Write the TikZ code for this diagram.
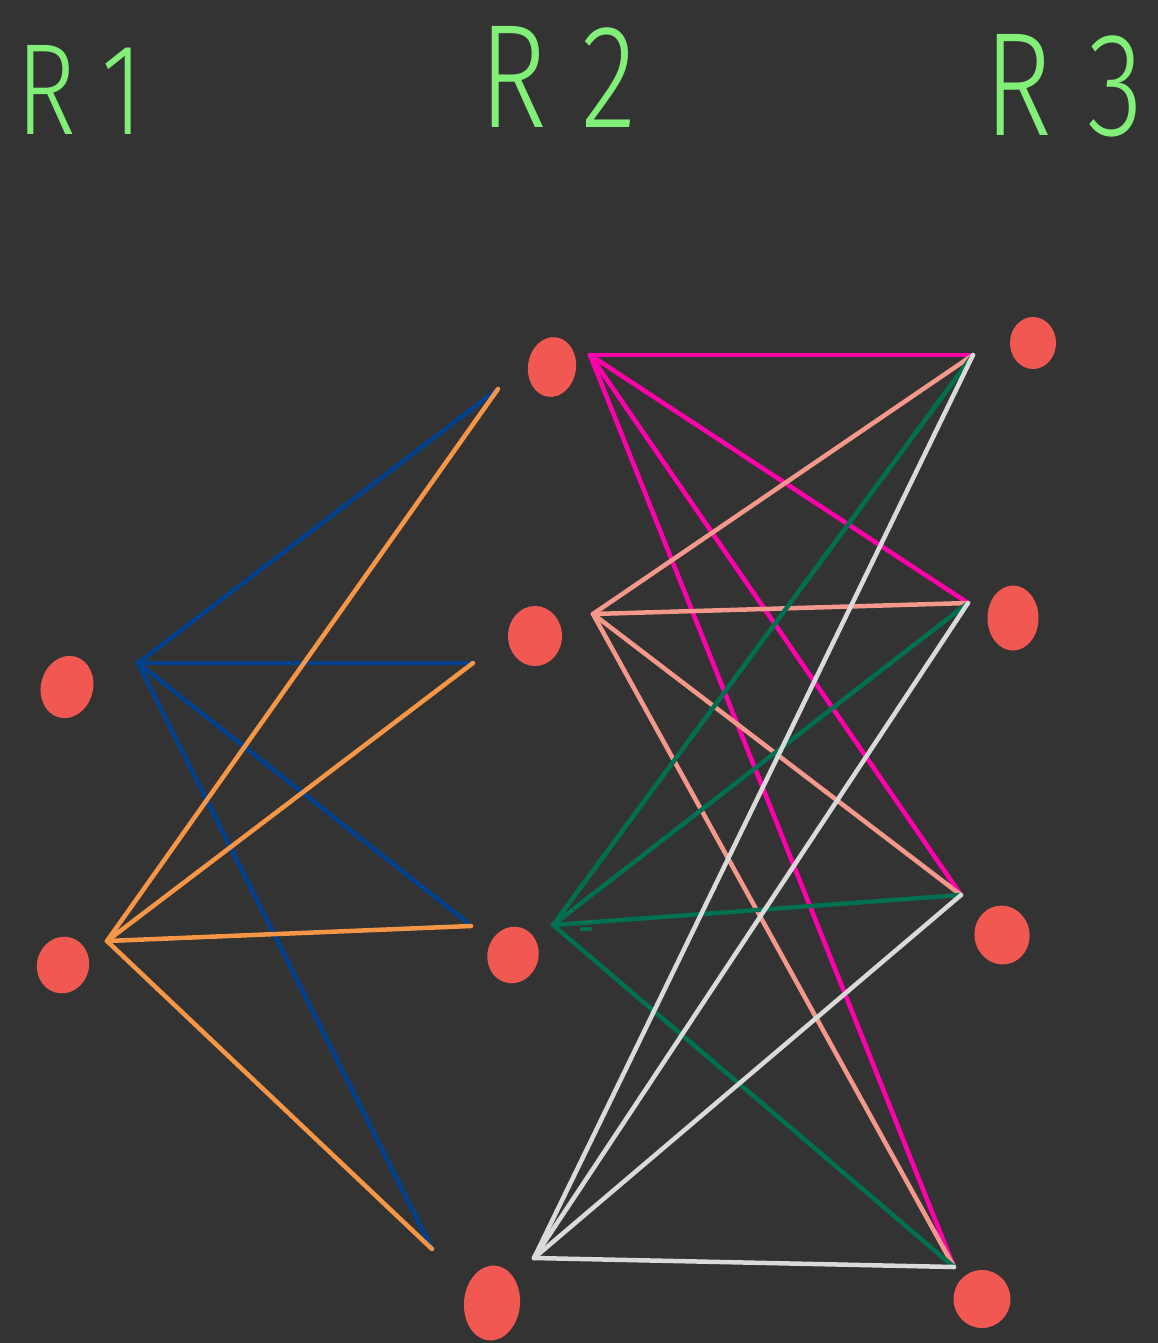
\documentclass[tikz,border=0pt]{standalone}
\usepackage{fontspec}
\usetikzlibrary{shapes.geometric}
\newfontfamily\labfont{Fira Sans Light}
\definecolor{bg}{RGB}{51,51,51}
\definecolor{dotred}{RGB}{242,88,82}
\definecolor{lblue}{RGB}{0,64,140}
\definecolor{lorange}{RGB}{245,150,70}
\definecolor{lmag}{RGB}{255,0,170}
\definecolor{lsalmon}{RGB}{245,152,140}
\definecolor{lgreen}{RGB}{0,112,80}
\definecolor{lwhite}{RGB}{218,218,218}
\definecolor{tgreen}{RGB}{130,240,120}
\tikzset{
  dotnode/.style={ellipse, fill=dotred, draw=none, inner sep=0pt},
  edge/.style={line width=0.09cm, line cap=round},
  lab/.style={text=tgreen, font=\labfont\fontsize{84}{84}\selectfont, inner sep=0pt, xscale=0.78}
}
\begin{document}
\begin{tikzpicture}[x=0.02cm, y=-0.02cm]
\fill[bg] (0,0) rectangle (1158,1343);
\useasboundingbox (0,0) rectangle (1158,1343);
% labels
\node[lab, font=\labfont\fontsize{74}{74}\selectfont] (l1) at (80,90) {R\hspace{0.25em}1};
\node[lab] (l2) at (558,77) {R\hspace{0.3em}2};
\node[lab] (l3) at (1064,86) {R\hspace{0.3em}3};
% dots
\node[dotnode, minimum width=1.04cm, minimum height=1.26cm, rotate=-15] (a1) at (67,687) {};
\node[dotnode, minimum width=1.04cm, minimum height=1.14cm, rotate=-15] (a2) at (63,965) {};
\node[dotnode, minimum width=0.96cm, minimum height=1.2cm, rotate=-8] (b1) at (552,367) {};
\node[dotnode, minimum width=1.08cm, minimum height=1.2cm] (b2) at (535,636) {};
\node[dotnode, minimum width=1.02cm, minimum height=1.14cm, rotate=-15] (b3) at (513,955) {};
\node[dotnode, minimum width=1.12cm, minimum height=1.5cm, rotate=-5] (b4) at (492,1303) {};
\node[dotnode, minimum width=0.92cm, minimum height=1.04cm] (c1) at (1033,343) {};
\node[dotnode, minimum width=1.02cm, minimum height=1.3cm] (c2) at (1013,618) {};
\node[dotnode, minimum width=1.1cm, minimum height=1.18cm, rotate=10] (c3) at (1002,935) {};
\node[dotnode, minimum width=1.14cm, minimum height=1.16cm] (c4) at (982,1299) {};
% hubs and ends
\coordinate (hb) at (138,663);
\coordinate (ho) at (107,941);
\coordinate (e1) at (498,389);
\coordinate (e2) at (473,663);
\coordinate (e3b) at (468,923);
\coordinate (e3o) at (471,926);
\coordinate (e4) at (432,1249);
\coordinate (hp) at (590,355);
\coordinate (hs) at (593,614);
\coordinate (hg) at (553,925);
\coordinate (hw) at (534,1258);
\coordinate (t1) at (973,355);
\coordinate (t2) at (968,603);
\coordinate (t3) at (961,895);
\coordinate (t4) at (954,1267);
% blue
\draw[edge, lblue] (hb) -- (e1);
\draw[edge, lblue] (hb) -- (e2);
\draw[edge, lblue] (hb) -- (e3b);
\draw[edge, lblue] (hb) -- (e4);
% orange
\draw[edge, lorange] (ho) -- (e1);
\draw[edge, lorange] (ho) -- (e2);
\draw[edge, lorange] (ho) -- (e3o);
\draw[edge, lorange] (ho) -- (e4);
% magenta
\draw[edge, lmag] (hp) -- (t1);
\draw[edge, lmag] (hp) -- (t2);
\draw[edge, lmag] (hp) -- (t3);
\draw[edge, lmag] (hp) -- (t4);
% salmon
\draw[edge, lsalmon] (hs) -- (t1);
\draw[edge, lsalmon] (hs) -- (t2);
\draw[edge, lsalmon] (hs) -- (t3);
\draw[edge, lsalmon] (hs) -- (t4);
% green
\draw[edge, lgreen] (hg) -- (t1);
\draw[edge, lgreen] (hg) -- (t2);
\draw[edge, lgreen] (hg) -- (t3);
\draw[edge, lgreen] (hg) -- (t4);
\draw[edge, lgreen] (582,929) -- (590,929);
% white
\draw[edge, lwhite] (hw) -- (t1);
\draw[edge, lwhite] (hw) -- (t2);
\draw[edge, lwhite] (hw) -- (t3);
\draw[edge, lwhite] (hw) -- (t4);
\end{tikzpicture}
\end{document}
